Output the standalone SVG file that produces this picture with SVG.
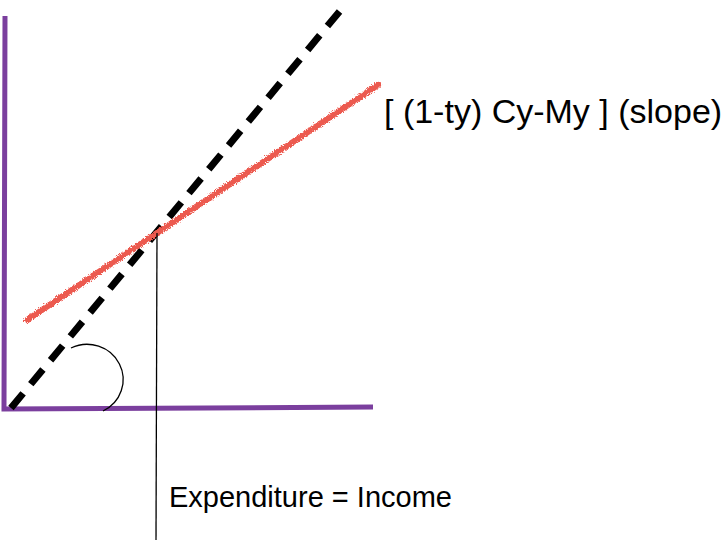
<svg xmlns="http://www.w3.org/2000/svg" width="727" height="540" viewBox="0 0 727 540">
  <style>
    .axis { stroke: #7b3f9e; stroke-width: 5; fill: none; stroke-linecap: butt; }
    .dash { stroke: #000; stroke-width: 7; fill: none; stroke-dasharray: 19 12; }
    .red { stroke: #ec5a50; stroke-width: 6; fill: none; stroke-linecap: round; }
    .thin { stroke: #000; stroke-width: 1.3; fill: none; }
    .lbl { font-family: "Liberation Sans", Arial, sans-serif; fill: #000; }
  </style>
  <defs>
    <filter id="rough" x="-5%" y="-10%" width="110%" height="120%">
      <feTurbulence type="fractalNoise" baseFrequency="0.9" numOctaves="2" seed="5" result="n"/>
      <feDisplacementMap in="SourceGraphic" in2="n" scale="5" xChannelSelector="R" yChannelSelector="G"/>
    </filter>
  </defs>
  <g id="axes">
    <path class="axis" d="M5,16 L4,409 L373,407"/>
  </g>
  <g id="connectors">
    <line class="dash" x1="11" y1="408" x2="344" y2="6"/>
    <path class="red" filter="url(#rough)" d="M27,320 L378,85"/>
    <line class="thin" x1="157" y1="233" x2="156" y2="540"/>
    <path class="thin" d="M71,348 A35,34 0 0 1 103,411"/>
  </g>
  <g id="slope-label">
    <text class="lbl" x="384" y="123" font-size="34">[ (1-ty) Cy-My ] (slope)</text>
  </g>
  <g id="equilibrium-label">
    <text class="lbl" x="169" y="507" font-size="29">Expenditure = Income</text>
  </g>
</svg>
